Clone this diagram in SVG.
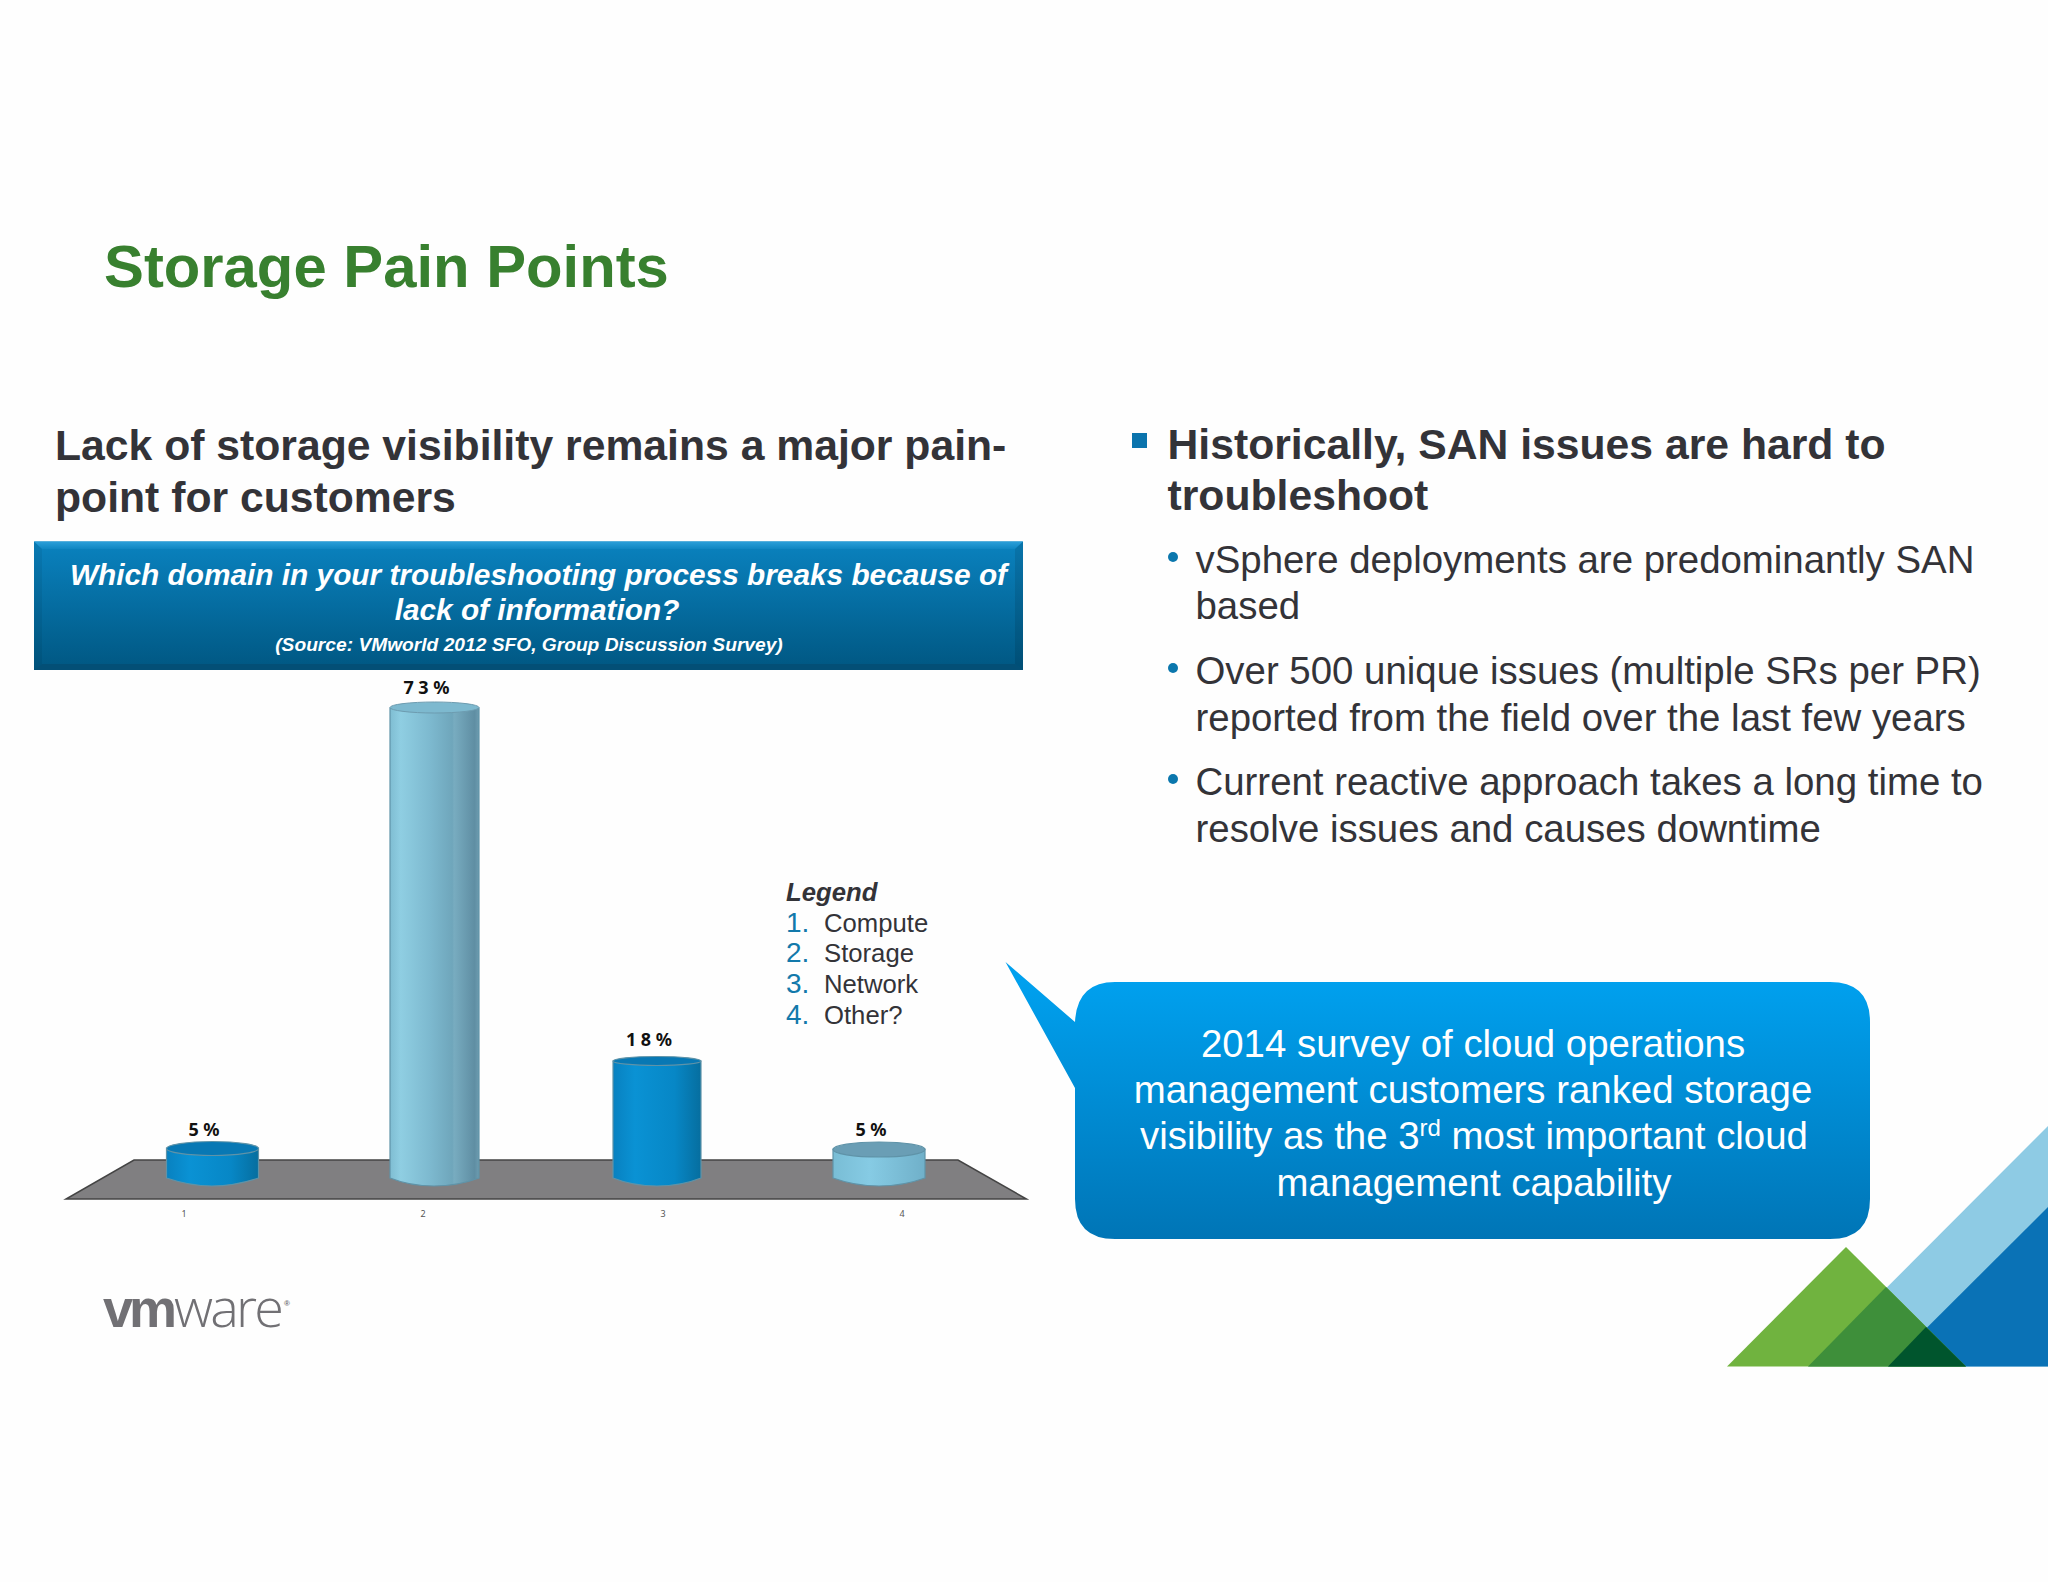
<svg xmlns="http://www.w3.org/2000/svg" width="2048" height="1582" viewBox="0 0 2048 1582">
<style>
text{font-family:"Liberation Sans",Arial,sans-serif;fill:#333338}
.h{font-weight:700;font-size:42.7px}
.b{font-size:38.4px}
.ban{font-weight:700;font-style:italic;fill:#fff;text-anchor:middle}
.pct{font-family:"Noto Sans",sans-serif;font-weight:700;font-size:18px;fill:#111;text-anchor:middle}
.ax{font-family:"Noto Sans",sans-serif;font-size:9px;fill:#555;text-anchor:middle}
.ln{font-size:28px;fill:#1279ab}
.lt{font-size:25.7px}
.co{font-size:38.4px;fill:#fff;text-anchor:middle}
.dot{fill:#0b77ad}
.cl{stroke:#5f93a8;stroke-width:1.2}
.logo{fill:#717074}
</style>
<defs>
<linearGradient id="banG" x1="0" y1="0" x2="0" y2="1"><stop offset="0" stop-color="#0a82bf"/><stop offset="1" stop-color="#005782"/></linearGradient>
<linearGradient id="topB" x1="0" y1="0" x2="0" y2="1"><stop offset="0" stop-color="#2b9fd9"/><stop offset="1" stop-color="#0f86c2"/></linearGradient>
<linearGradient id="coG" gradientUnits="userSpaceOnUse" x1="0" y1="982" x2="0" y2="1239"><stop offset="0" stop-color="#00a0ee"/><stop offset="1" stop-color="#0075b6"/></linearGradient>
<linearGradient id="lightC" x1="0" y1="0" x2="1" y2="0"><stop offset="0" stop-color="#7fbdd2"/><stop offset=".12" stop-color="#8fcee2"/><stop offset=".45" stop-color="#7db9cf"/><stop offset=".7" stop-color="#6fa6bb"/><stop offset=".72" stop-color="#78acc0"/><stop offset=".95" stop-color="#5f8ea3"/><stop offset="1" stop-color="#6d9cb0"/></linearGradient>
<linearGradient id="lightD" x1="0" y1="0" x2="1" y2="0"><stop offset="0" stop-color="#79bdd5"/><stop offset=".4" stop-color="#86cbe4"/><stop offset="1" stop-color="#70b0c9"/></linearGradient>
<linearGradient id="blueC" x1="0" y1="0" x2="1" y2="0"><stop offset="0" stop-color="#0881c0"/><stop offset=".25" stop-color="#0a92d4"/><stop offset=".7" stop-color="#0787c6"/><stop offset="1" stop-color="#066e9f"/></linearGradient>
</defs>
<rect id="background" width="2048" height="1582" fill="#fefefe"/>

<g id="title"><text x="104" y="287" font-weight="700" font-size="59.8" style="fill:#38802f">Storage Pain Points</text></g>

<g id="left-heading">
<text class="h" x="55" y="460">Lack of storage visibility remains a major pain-</text>
<text class="h" x="55" y="512">point for customers</text>
</g>

<g id="banner">
<rect x="34" y="541.5" width="989" height="128.5" fill="url(#banG)"/>
<polygon points="34,541.5 1023,541.5 1015,549 42,549" fill="url(#topB)"/>
<polygon points="34,541.5 42,549 42,664 34,670" fill="#000" fill-opacity=".06"/>
<polygon points="1023,541.5 1015,549 1015,664 1023,670" fill="#000" fill-opacity=".1"/>
<polygon points="34,670 42,664 1015,664 1023,670" fill="#034f76"/>
<text class="ban" x="538.5" y="585" font-size="29.8">Which domain in your troubleshooting process breaks because of</text>
<text class="ban" x="537" y="620" font-size="29.8">lack of information?</text>
<text class="ban" x="529" y="650.5" font-size="19.2">(Source: VMworld 2012 SFO, Group Discussion Survey)</text>
</g>

<g id="chart">
<polygon id="floor" points="134,1160 958,1160 1026.5,1199 66,1199" fill="#807f81" stroke="#444" stroke-width="1.5"/>
<g id="bar-1">
<path class="cl" d="M166.5 1148V1178Q190 1186 212 1186T258.5 1178V1148Z" fill="url(#blueC)"/>
<ellipse class="cl" cx="212.5" cy="1148.5" rx="46" ry="7" fill="#0878b4"/>
<text class="pct" x="204" y="1135.5">5 %</text>
</g>
<g id="bar-2">
<path class="cl" d="M390 708V1178Q410 1186 434 1186T479 1178V708Z" fill="url(#lightC)"/>
<ellipse cx="434.5" cy="707.5" rx="44.5" ry="5.5" fill="#7db9cf" stroke="#6d9cb0" stroke-width="1"/>
<text class="pct" x="426.5" y="694">7 3 %</text>
</g>
<g id="bar-3">
<path class="cl" d="M613 1061V1178Q633 1186 657 1186T701 1178V1061Z" fill="url(#blueC)"/>
<ellipse class="cl" cx="657" cy="1061" rx="44" ry="4.5" fill="#0878b4"/>
<text class="pct" x="649" y="1046">1 8 %</text>
</g>
<g id="bar-4">
<path class="cl" d="M833 1149V1178Q855 1186 879 1186T925 1178V1149Z" fill="url(#lightD)"/>
<ellipse class="cl" cx="879" cy="1149.5" rx="46" ry="7.5" fill="#6a9eb5"/>
<text class="pct" x="871" y="1135.5">5 %</text>
</g>
<g id="axis">
<text class="ax" x="184" y="1217">1</text>
<text class="ax" x="423" y="1217">2</text>
<text class="ax" x="663" y="1217">3</text>
<text class="ax" x="902" y="1217">4</text>
</g>
</g>

<g id="legend">
<text x="786" y="901" font-weight="700" font-style="italic" font-size="25.7">Legend</text>
<text class="ln" x="786" y="931.5">1.</text><text class="lt" x="824" y="931.5">Compute</text>
<text class="ln" x="786" y="962">2.</text><text class="lt" x="824" y="962">Storage</text>
<text class="ln" x="786" y="993">3.</text><text class="lt" x="824" y="993">Network</text>
<text class="ln" x="786" y="1023.5">4.</text><text class="lt" x="824" y="1023.5">Other?</text>
</g>

<g id="right-bullets">
<rect x="1132" y="433" width="15" height="15" fill="#0b74ad"/>
<text class="h" x="1167.5" y="458.5">Historically, SAN issues are hard to</text>
<text class="h" x="1167.5" y="510">troubleshoot</text>
<circle class="dot" cx="1173" cy="557" r="5"/>
<text class="b" x="1195.5" y="572.5">vSphere deployments are predominantly SAN</text>
<text class="b" x="1195.5" y="619">based</text>
<circle class="dot" cx="1173" cy="668" r="5"/>
<text class="b" x="1195.5" y="683.5">Over 500 unique issues (multiple SRs per PR)</text>
<text class="b" x="1195.5" y="730.5">reported from the field over the last few years</text>
<circle class="dot" cx="1173" cy="779" r="5"/>
<text class="b" x="1195.5" y="794.5">Current reactive approach takes a long time to</text>
<text class="b" x="1195.5" y="841.5">resolve issues and causes downtime</text>
</g>

<g id="callout">
<path d="M1005.5 962L1075 1022Q1077 982 1115 982H1830Q1870 982 1870 1022V1199Q1870 1239 1830 1239H1115Q1075 1239 1075 1199V1088Z" fill="url(#coG)"/>
<text class="co" x="1473" y="1057">2014 survey of cloud operations</text>
<text class="co" x="1473" y="1103">management customers ranked storage</text>
<text class="co" x="1474" y="1149">visibility as the 3<tspan font-size="24" dy="-13">rd</tspan><tspan dy="13"> most important cloud</tspan></text>
<text class="co" x="1474" y="1196">management capability</text>
</g>

<g id="logo">
<text class="logo" x="103" y="1326.5" font-size="54" font-weight="700" letter-spacing="-4">vm<tspan x="174" font-weight="300" letter-spacing="-2.8" style="font-family:'Open Sans',sans-serif">ware</tspan><tspan x="284" y="1306" font-size="8" letter-spacing="0">®</tspan></text>
</g>

<g id="corner-shapes">
<polygon points="1808,1366.5 2048,1126 2048,1366.5" fill="#8ecbe4"/>
<polygon points="1888,1366.5 2048,1207 2048,1366.5" fill="#0a72b6"/>
<polygon points="1727,1366.5 1846,1247 1966,1366.5" fill="#70b33f"/>
<polygon points="1808,1366.5 1886,1287 1966,1366.5" fill="#3e8f3a"/>
<polygon points="1888,1366.5 1926,1327 1966,1366.5" fill="#00552d"/>
</g>
</svg>
